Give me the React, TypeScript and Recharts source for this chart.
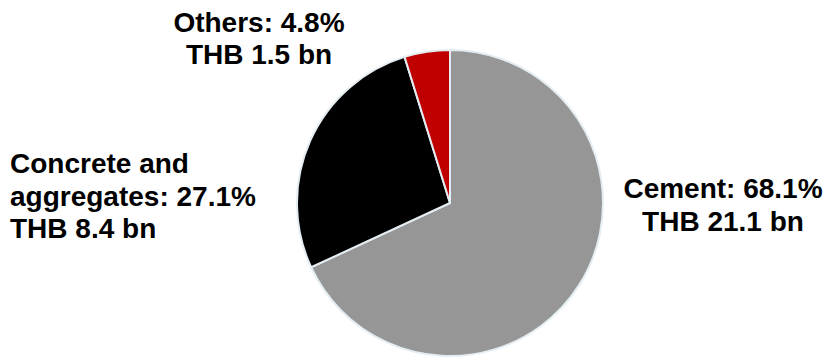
import { PieChart, Pie, Cell } from "recharts";

const categories = ["Cement", "Concrete and aggregates", "Others"];
const shares = [68.1, 27.1, 4.8];
const revenueBn = [21.1, 8.4, 1.5];

const colors = ["#969696", "#000000", "#c00000"];

// label placement relative to pie centre (dx, dy = first baseline), and where the name wraps
const labelLayout = [
  { dx: 273, dy: -5, anchor: "middle", wrapAfter: 0 },
  { dx: -440, dy: -30, anchor: "start", wrapAfter: 2 },
  { dx: -191, dy: -171.5, anchor: "middle", wrapAfter: 0 },
];

const data = categories.map((name, i) => ({ name, share: shares[i], value: revenueBn[i] }));

const LINE_H = 32.5;

function renderLabel(props: any) {
  const { cx, cy, index } = props;
  const d = data[index];
  const lay = labelLayout[index];
  const words = d.name.split(" ");
  let lines: string[];
  if (lay.wrapAfter > 0) {
    lines = [
      words.slice(0, lay.wrapAfter).join(" "),
      `${words.slice(lay.wrapAfter).join(" ")}: ${d.share.toFixed(1)}%`,
    ];
  } else {
    lines = [`${d.name}: ${d.share.toFixed(1)}%`];
  }
  lines.push(`THB ${d.value.toFixed(1)} bn`);
  const x = cx + lay.dx;
  const y = cy + lay.dy;
  return (
    <text
      x={x}
      y={y}
      textAnchor={lay.anchor}
      fill="#000"
      fontSize={28}
      fontWeight="bold"
      fontFamily="'Liberation Sans', Arial, sans-serif"
    >
      {lines.map((l, i) => (
        <tspan key={i} x={x} y={y + i * LINE_H}>
          {l}
        </tspan>
      ))}
    </text>
  );
}

export default function App() {
  return (
    <div style={{ position: "absolute", left: 0, top: 0, width: 827, height: 358, background: "#fff" }}>
      <PieChart width={827} height={358} margin={{ top: 0, right: 0, bottom: 0, left: 0 }}>
        <Pie
          data={data}
          dataKey="share"
          nameKey="name"
          cx={450}
          cy={203}
          outerRadius={153}
          startAngle={90}
          endAngle={-270}
          stroke="#e4edf2"
          strokeWidth={2}
          label={renderLabel}
          labelLine={false}
          isAnimationActive={false}
        >
          {data.map((d, i) => (
            <Cell key={d.name} fill={colors[i]} />
          ))}
        </Pie>
      </PieChart>
    </div>
  );
}
